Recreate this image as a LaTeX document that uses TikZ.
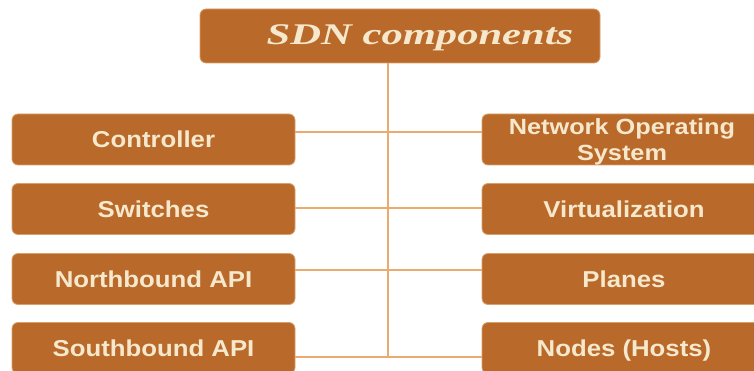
\documentclass[tikz,border=0pt]{standalone}
\usepackage{fontspec}
\setmainfont{Liberation Serif}
\setsansfont{Liberation Sans}
\definecolor{boxfill}{HTML}{B96A2A}
\definecolor{boxedge}{HTML}{D9A06A}
\definecolor{txt}{HTML}{F6E8CC}
\definecolor{conn}{HTML}{EBAA6E}
\newcommand{\wide}[1]{\scalebox{1.12}[1]{#1}}
\tikzset{
  comp/.style={draw=boxedge, line width=0.8pt, fill=boxfill, rounded corners=6pt,
    minimum width=283pt, minimum height=51pt, inner sep=0pt, text=txt,
    text height=17pt, text depth=0pt,
    align=center, font=\sffamily\bfseries\fontsize{23}{24}\selectfont},
  titlebox/.style={draw=boxedge, line width=0.8pt, fill=boxfill, rounded corners=6pt,
    minimum width=400pt, minimum height=54pt, inner sep=0pt, text=txt},
  link/.style={draw=conn, line width=1.6pt}
}
\begin{document}
\begin{tikzpicture}[x=1pt,y=-1pt]
\useasboundingbox (0,0) rectangle (754,371);
\begin{scope}
\clip (0,0) rectangle (754,371);
\node[titlebox] (title) at (400,36) {};
\node[text=txt, font=\rmfamily\bfseries\itshape\fontsize{30}{30}\selectfont] (ttext) at (420,38) {\scalebox{1.42}[1]{SDN components}};
\coordinate (vx) at (388,357);
\coordinate (r1) at (388,132);
\coordinate (r2) at (388,208);
\coordinate (r3) at (388,270);
\coordinate (r4) at (388,357);
\node[comp] (ctrl) at (153.5,139.5) {\wide{Controller}};
\node[comp] (sw) at (153.5,209) {\wide{Switches}};
\node[comp] (nb) at (153.5,279) {\wide{Northbound API}};
\node[comp] (sb) at (153.5,348) {\wide{Southbound API}};
\node[comp, minimum width=284pt] (nos) at (624,139.5) {};
\node[text=txt, align=center, inner sep=0pt, font=\sffamily\bfseries\fontsize{22}{26}\selectfont] (nostext) at (622,142) {\scalebox{1.15}[1]{Network Operating}\\\scalebox{1.15}[1]{System}};
\node[comp, minimum width=284pt] (virt) at (624,209) {\wide{Virtualization}};
\node[comp, minimum width=284pt] (pl) at (624,279) {\wide{Planes}};
\node[comp, minimum width=284pt] (nd) at (624,348) {\wide{Nodes (Hosts)}};
\draw[link] (title.south -| vx) -- (vx);
\draw[link] (ctrl.east |- r1) -- (nos.west |- r1);
\draw[link] (sw.east |- r2) -- (virt.west |- r2);
\draw[link] (nb.east |- r3) -- (pl.west |- r3);
\draw[link] (sb.east |- r4) -- (nd.west |- r4);
\end{scope}
\end{tikzpicture}
\end{document}
